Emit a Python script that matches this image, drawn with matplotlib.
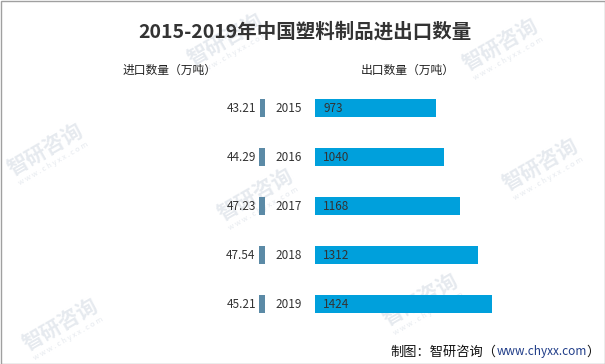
import matplotlib
matplotlib.use('Agg')
import matplotlib.pyplot as plt
from matplotlib.patches import Rectangle

plt.rcParams['font.family'] = ['Noto Sans CJK SC', 'DejaVu Sans']

years = ['2015', '2016', '2017', '2018', '2019']
imports = [43.21, 44.29, 47.23, 47.54, 45.21]
exports = [973, 1040, 1168, 1312, 1424]

W, H = 605, 364
fig = plt.figure(figsize=(W / 100, H / 100), dpi=100)
fig.patch.set_facecolor('white')

per_px = 8.05  # value units per pixel, shared by both sides
y_top, y_bot = 84, 328.5

def px_axes(left, right):
    ax = fig.add_axes([left / W, 1 - y_bot / H, (right - left) / W, (y_bot - y_top) / H])
    ax.patch.set_visible(False)
    return ax

# watermarks (behind everything)
for x, y in [(225, 40), (500, 45), (45, 150), (255, 195), (540, 165), (420, 300), (60, 325)]:
    fig.text(x / W, 1 - y / H, '智研咨询', ha='center', va='center', rotation=30,
             fontsize=15, fontweight='bold', color='#e6eaef', zorder=-1)
    fig.text((x + 8) / W, 1 - (y + 14) / H, 'w w w . c h y x x . c o m', ha='center', va='center',
             rotation=30, fontsize=5.5, color='#e6eaef', zorder=-1)

# export side
ax_e = px_axes(315, 500)
ax_e.set_xlim(0, 185 * per_px)
ax_e.set_ylim(len(years) - 0.5, -0.5)
ax_e.barh(range(len(years)), exports, height=0.37, color='#00A0DC')
for i, v in enumerate(exports):
    ax_e.annotate(str(v), (0, i), xytext=(6, 0), textcoords='offset points',
                  ha='left', va='center', fontsize=8.5, color='#333333')
ax_e.axis('off')

# import side (grows leftwards)
ax_i = px_axes(200, 265)
ax_i.set_xlim(65 * per_px, 0)
ax_i.set_ylim(len(years) - 0.5, -0.5)
ax_i.barh(range(len(years)), imports, height=0.37, color='#5B8AA6')
for i, v in enumerate(imports):
    ax_i.annotate('%.2f' % v, (v, i), xytext=(-2.5, 0), textcoords='offset points',
                  ha='right', va='center', fontsize=8.5, color='#333333')
    ax_i.annotate(years[i], (0, i), xytext=(17, 0), textcoords='offset points',
                  ha='center', va='center', fontsize=8.5, color='#333333')
ax_i.axis('off')

fig.text(305 / W, 1 - 32 / H, '2015-2019年中国塑料制品进出口数量', ha='center', va='center',
         fontsize=14, fontweight='bold', color='#333333')
fig.text(170 / W, 1 - 70 / H, '进口数量（万吨）', ha='center', va='center', fontsize=8.5, color='#222222')
fig.text(408 / W, 1 - 70 / H, '出口数量（万吨）', ha='center', va='center', fontsize=8.5, color='#222222')

# source line: three pieces laid out right to left
sy = 1 - 352 / H
t3 = fig.text(600 / W, sy, '）', ha='right', va='center', fontsize=9.5, color='#111111')
fig.canvas.draw()
r = fig.canvas.get_renderer()
x3 = t3.get_window_extent(r).x0
t2 = fig.text(x3 / W, sy, 'www.chyxx.com', ha='right', va='center', fontsize=8.5, color='#1F3C88')
fig.canvas.draw()
x2 = t2.get_window_extent(r).x0
fig.text(x2 / W, sy, '制图：智研咨询（', ha='right', va='center', fontsize=9.5, color='#111111')

fig.add_artist(Rectangle((0.5 / W, 0.5 / H), 1 - 1 / W, 1 - 1 / H, transform=fig.transFigure,
                         fill=False, edgecolor='#a0a0a0', linewidth=1))

fig.savefig('out.png', dpi=100)
